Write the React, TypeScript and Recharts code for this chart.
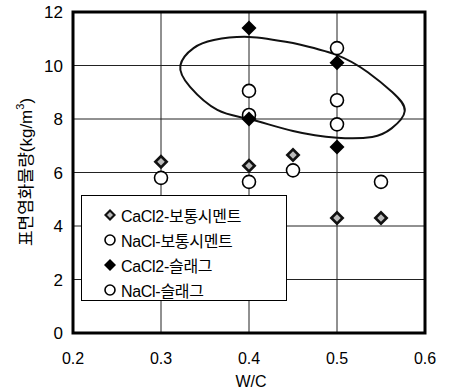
import React from "react";
import {
  ScatterChart,
  Scatter,
  XAxis,
  YAxis,
  CartesianGrid,
  ReferenceArea,
} from "recharts";

// W/C 별 표면염화물량
const cacl2OpcX = [0.3, 0.4, 0.45, 0.5, 0.55];
const cacl2OpcY = [6.4, 6.25, 6.65, 4.3, 4.3];

const naclOpcX = [0.3, 0.4, 0.45, 0.55];
const naclOpcY = [5.8, 5.65, 6.08, 5.65];

const cacl2SlagX = [0.4, 0.4, 0.5, 0.5];
const cacl2SlagY = [11.4, 8.0, 10.1, 6.95];

const naclSlagX = [0.4, 0.4, 0.5, 0.5, 0.5];
const naclSlagY = [9.05, 8.15, 10.65, 8.7, 7.8];

// 손으로 그린 타원 (그림에서 읽은 점)
const loopX = [0.45, 0.5, 0.535, 0.563, 0.577, 0.562, 0.54, 0.5, 0.45, 0.4, 0.364, 0.333, 0.322, 0.337, 0.36, 0.4, 0.45];
const loopY = [10.84, 10.39, 9.75, 9.0, 8.3, 7.65, 7.33, 7.3, 7.55, 8.0, 8.34, 9.2, 10.0, 10.65, 10.95, 11.07, 10.84];

const xTicks = [0.2, 0.3, 0.4, 0.5, 0.6];
const yTicks = [0, 2, 4, 6, 8, 10, 12];

const legendLabels = ["CaCl2-보통시멘트", "NaCl-보통시멘트", "CaCl2-슬래그", "NaCl-슬래그"];

const toPoints = (xs: number[], ys: number[]) => xs.map((x, i) => ({ x, y: ys[i] }));

const FONT = "'Liberation Sans', Arial, sans-serif";
const KFONT = "'Liberation Sans', 'Noto Sans CJK KR', sans-serif";

const GreyDiamond = ({ cx, cy, s = 7.5 }: any) => (
  <g>
    <polygon points={`${cx},${cy - s} ${cx + s},${cy} ${cx},${cy + s} ${cx - s},${cy}`} fill="#111" />
    <polygon
      points={`${cx},${cy - s * 0.5} ${cx + s * 0.5},${cy} ${cx},${cy + s * 0.5} ${cx - s * 0.5},${cy}`}
      fill="#bbb"
    />
  </g>
);

const BlackDiamond = ({ cx, cy, s = 7.5 }: any) => (
  <polygon points={`${cx},${cy - s} ${cx + s},${cy} ${cx},${cy + s} ${cx - s},${cy}`} fill="#000" />
);

const OpenCircle = ({ cx, cy, r = 6.5 }: any) => (
  <circle cx={cx} cy={cy} r={r} fill="#fff" stroke="#000" strokeWidth={1.6} />
);

function LegendBox() {
  const icons = [
    <GreyDiamond cx={7} cy={8} s={6} />,
    <OpenCircle cx={7} cy={8} r={5} />,
    <BlackDiamond cx={7} cy={8} s={6} />,
    <OpenCircle cx={7} cy={8} r={5} />,
  ];
  return (
    <div
      style={{
        position: "absolute",
        left: 81,
        top: 195,
        width: 206,
        height: 106,
        background: "#fff",
        border: "1px solid #000",
        boxSizing: "border-box",
        paddingTop: 6,
        paddingLeft: 21,
      }}
    >
      {legendLabels.map((label, i) => (
        <div key={label} style={{ display: "flex", alignItems: "center", height: 25 }}>
          <svg width={15} height={16} style={{ marginRight: 3 }}>
            {icons[i]}
          </svg>
          <span style={{ fontFamily: KFONT, fontSize: 16, color: "#000", letterSpacing: -0.3 }}>{label}</span>
        </div>
      ))}
    </div>
  );
}

export default function App() {
  return (
    <div style={{ position: "absolute", left: 0, top: 0, width: 449, height: 389, background: "#fff" }}>
      <ScatterChart width={449} height={389} margin={{ top: 12, right: 24, bottom: 0, left: 13 }}>
        <CartesianGrid stroke="#222" strokeWidth={1} />
        <XAxis
          type="number"
          dataKey="x"
          domain={[0.2, 0.6]}
          ticks={xTicks}
          height={56}
          axisLine={false}
          tickLine={false}
          tickSize={6}
          tickMargin={14}
          tick={{ fontSize: 16, fill: "#000", fontFamily: FONT }}
          label={{
            content: () => (
              <text x={251} y={387} textAnchor="middle" fontSize={16} fontFamily={FONT} fill="#000">
                W/C
              </text>
            ),
          }}
        />
        <YAxis
          type="number"
          dataKey="y"
          domain={[0, 12]}
          ticks={yTicks}
          width={60}
          axisLine={false}
          tickLine={false}
          tickSize={6}
          tickMargin={4}
          tick={{ fontSize: 17, fill: "#000", fontFamily: FONT }}
          label={{
            content: () => (
              <text
                x={26}
                y={172}
                transform="rotate(-90 26 172)"
                textAnchor="middle"
                dominantBaseline="central"
                fontSize={17}
                fontFamily={KFONT}
                fill="#000"
              >
                표면염화물량(kg/m
                <tspan fontSize={11} dy={-6}>3</tspan>
                <tspan dy={6}>)</tspan>
              </text>
            ),
          }}
        />
        <ReferenceArea x1={0.2} x2={0.6} y1={0} y2={12} fill="none" stroke="#000" strokeWidth={3} />
        <Scatter
          data={toPoints(loopX, loopY)}
          line={{ stroke: "#111", strokeWidth: 2 }}
          lineType="joint"
          lineJointType="natural"
          shape={() => <g />}
          isAnimationActive={false}
        />
        <Scatter data={toPoints(naclOpcX, naclOpcY)} shape={(p: any) => <OpenCircle cx={p.cx} cy={p.cy} />} isAnimationActive={false} />
        <Scatter data={toPoints(naclSlagX, naclSlagY)} shape={(p: any) => <OpenCircle cx={p.cx} cy={p.cy} />} isAnimationActive={false} />
        <Scatter data={toPoints(cacl2OpcX, cacl2OpcY)} shape={(p: any) => <GreyDiamond cx={p.cx} cy={p.cy} />} isAnimationActive={false} />
        <Scatter data={toPoints(cacl2SlagX, cacl2SlagY)} shape={(p: any) => <BlackDiamond cx={p.cx} cy={p.cy} />} isAnimationActive={false} />
      </ScatterChart>
      <LegendBox />
    </div>
  );
}
